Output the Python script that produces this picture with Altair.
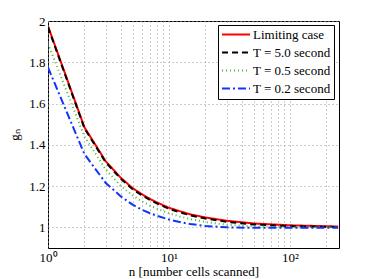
import altair as alt
import pandas as pd

n_vals = [1, 2, 3, 4, 5, 6, 7, 8, 10, 12, 15, 20, 30, 50, 100, 250]
limiting = [1.975, 1.485, 1.32, 1.24, 1.19, 1.16, 1.137, 1.12, 1.095, 1.08, 1.063, 1.048, 1.032, 1.019, 1.01, 1.004]
t50 = [1.97, 1.48, 1.315, 1.235, 1.185, 1.155, 1.132, 1.115, 1.09, 1.075, 1.058, 1.043, 1.027, 1.014, 1.006, 1.002]
t05 = [1.89, 1.44, 1.28, 1.2, 1.155, 1.125, 1.105, 1.09, 1.068, 1.054, 1.04, 1.026, 1.013, 1.005, 1.001, 1.0]
t02 = [1.775, 1.355, 1.215, 1.15, 1.11, 1.085, 1.068, 1.056, 1.038, 1.027, 1.016, 1.007, 1.0, 0.998, 0.998, 0.998]

series_names = ["Limiting case", "T = 5.0 second", "T = 0.5 second", "T = 0.2 second"]
series_vals = [limiting, t50, t05, t02]
colors = ["#ff0000", "#000000", "#44bb33", "#1133ff"]
dashes = [[1, 0], [6, 4], [1, 3], [8, 3, 2, 3]]
widths = [2, 2, 1.2, 1.5]

x_ticks = [1, 2, 3, 4, 5, 6, 7, 8, 9, 10, 20, 30, 40, 50, 60, 70, 80, 90, 100, 200]
y_ticks = [1, 1.2, 1.4, 1.6, 1.8, 2]

rows = []
for name, vals in zip(series_names, series_vals):
    for n, v in zip(n_vals, vals):
        rows.append({"n": n, "g": v, "series": name})
df = pd.DataFrame(rows)

font = "Liberation Serif"

chart = alt.Chart(df).mark_line(clip=True).encode(
    x=alt.X("n:Q",
            scale=alt.Scale(type="log", domain=[1, 254], nice=False),
            axis=alt.Axis(values=x_ticks,
                          labelExpr="datum.value == 1 ? '10⁰' : datum.value == 10 ? '10¹' : datum.value == 100 ? '10²' : ''",
                          title="n [number cells scanned]",
                          grid=True, gridDash=[1, 3], gridColor="#999999", gridWidth=1,
                          ticks=False, labelPadding=3, titlePadding=1,
                          labelFontSize=13, titleFontSize=13,
                          labelColor="#000", titleColor="#000",
                          titleFontWeight="normal", domain=False, labelFlush=False)),
    y=alt.Y("g:Q",
            scale=alt.Scale(domain=[0.9, 2], nice=False, zero=False),
            axis=alt.Axis(values=y_ticks, labelExpr="format(datum.value, '~g')",
                          title="gₙ", grid=True, gridDash=[1, 3], gridColor="#999999",
                          ticks=False, labelPadding=3, titlePadding=7,
                          labelFontSize=13, titleFontSize=13,
                          labelColor="#000", titleColor="#000",
                          titleFontWeight="normal", domain=False)),
    color=alt.Color("series:N", sort=series_names,
                    scale=alt.Scale(domain=series_names, range=colors),
                    legend=alt.Legend(title=None, orient="none", legendX=170, legendY=4,
                                      labelFontSize=13, labelColor="#000",
                                      symbolType="stroke", symbolSize=784, clipHeight=13,
                                      strokeColor="#000", fillColor="#fff",
                                      padding=3, rowPadding=4, labelOffset=2,
                                      cornerRadius=0)),
    strokeDash=alt.StrokeDash("series:N", sort=series_names,
                              scale=alt.Scale(domain=series_names, range=dashes)),
    strokeWidth=alt.StrokeWidth("series:N", sort=series_names,
                                scale=alt.Scale(domain=series_names, range=widths)),
).properties(
    width=291, height=227,
    autosize=alt.AutoSizeParams(type="none"),
    padding={"left": 40, "top": 13, "right": 10, "bottom": 30},
).configure(font=font).configure_axis(labelFont=font, titleFont=font).configure_legend(
    labelFont=font, titleFont=font
).configure_view(stroke="#000", strokeWidth=1)

chart.save("out.html", embed_options={"renderer": "svg", "actions": False})
